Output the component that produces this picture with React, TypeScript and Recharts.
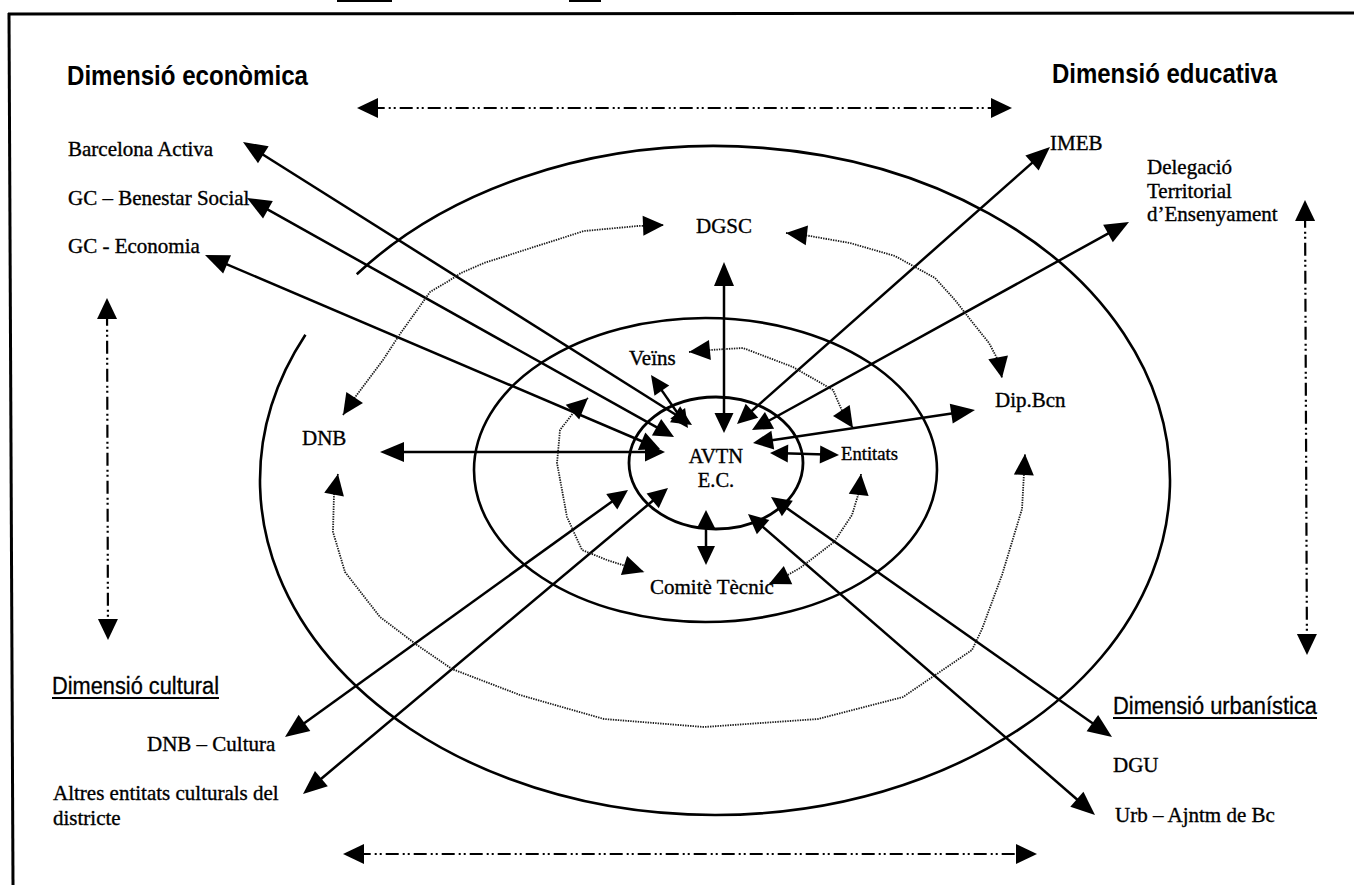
import React from "react";
import { ComposedChart, XAxis, YAxis, Line, Scatter, ReferenceLine, ReferenceArea } from "recharts";

const W = 1354;
const H = 885;

type Pt = { x: number; y: number };

// rings around AVTN (bounding boxes, page units)
const rings = [
  { id: "inner", x1: 629, x2: 803, y1: 397, y2: 529 },
  { id: "middle", x1: 474, x2: 937, y1: 318, y2: 622 },
  { id: "outer", x1: 260, x2: 1170, y1: 146, y2: 815 },
];
// break in the outer ring, upper left
const outerGap: Pt[] = [
  { x: 358, y: 275 },
  { x: 306, y: 335 },
];

// two-way links to the centre: outer tip -> inner tip
const radialLinks = [
  { label: "Barcelona Activa", x1: 243, y1: 142, x2: 692, y2: 425 },
  { label: "GC – Benestar Social", x1: 247, y1: 198, x2: 674, y2: 437 },
  { label: "GC - Economia", x1: 205, y1: 255, x2: 660, y2: 449 },
  { label: "DNB", x1: 380, y1: 452, x2: 665, y2: 452 },
  { label: "DGSC", x1: 724, y1: 262, x2: 724, y2: 433 },
  { label: "IMEB", x1: 1050, y1: 147, x2: 737, y2: 424 },
  { label: "Delegació", x1: 1129, y1: 222, x2: 752, y2: 430 },
  { label: "Dip.Bcn", x1: 975, y1: 410, x2: 753, y2: 443 },
  { label: "DNB – Cultura", x1: 285, y1: 737, x2: 628, y2: 490 },
  { label: "Altres entitats", x1: 303, y1: 794, x2: 668, y2: 488 },
  { label: "DGU", x1: 1112, y1: 737, x2: 771, y2: 497 },
  { label: "Urb", x1: 1095, y1: 815, x2: 748, y2: 514 },
];
const shortLinks = [
  { label: "Veïns", x1: 651, y1: 375, x2: 688, y2: 428 },
  { label: "Entitats", x1: 839, y1: 455, x2: 770, y2: 453 },
  { label: "Comitè Tècnic", x1: 706, y1: 565, x2: 706, y2: 510 },
];

// dash-dot arrows between the four dimensions
const dimensionLinks = [
  { id: "top", x1: 357, y1: 108, x2: 1012, y2: 108 },
  { id: "bottom", x1: 343, y1: 854, x2: 1037, y2: 854 },
  { id: "left", x1: 107, y1: 298, x2: 108, y2: 640 },
  { id: "right", x1: 1305, y1: 200, x2: 1307, y2: 655 },
];

// dotted flows between partners
const flowOuterTopLeft: Pt[] = [
  { x: 343, y: 415 }, { x: 353, y: 400 }, { x: 383, y: 360 }, { x: 400, y: 334 },
  { x: 430, y: 292 }, { x: 447, y: 282 }, { x: 461, y: 273 }, { x: 484, y: 263 },
  { x: 534, y: 247 }, { x: 584, y: 231 }, { x: 638, y: 226 }, { x: 664, y: 225 },
];
const flowOuterTopRight: Pt[] = [
  { x: 786, y: 233 }, { x: 804, y: 235 }, { x: 850, y: 243 }, { x: 895, y: 256 },
  { x: 935, y: 278 }, { x: 955, y: 300 }, { x: 969, y: 318 }, { x: 989, y: 343 },
  { x: 999, y: 362 }, { x: 1002, y: 378 },
];
const flowOuterBottom: Pt[] = [
  { x: 338, y: 474 }, { x: 334, y: 495 }, { x: 333, y: 532 }, { x: 345, y: 572 },
  { x: 380, y: 617 }, { x: 417, y: 645 }, { x: 452, y: 669 }, { x: 520, y: 695 },
  { x: 604, y: 719 }, { x: 704, y: 727 }, { x: 818, y: 719 }, { x: 903, y: 697 },
  { x: 972, y: 650 }, { x: 982, y: 629 }, { x: 1002, y: 575 }, { x: 1022, y: 509 },
  { x: 1025, y: 454 },
];
const flowInnerTop: Pt[] = [
  { x: 689, y: 352 }, { x: 710, y: 350 }, { x: 743, y: 348 }, { x: 793, y: 367 },
  { x: 833, y: 390 }, { x: 843, y: 413 }, { x: 853, y: 428 },
];
const flowInnerLeft: Pt[] = [
  { x: 588, y: 398 }, { x: 577, y: 408 }, { x: 560, y: 430 }, { x: 557, y: 463 },
  { x: 567, y: 517 }, { x: 582, y: 550 }, { x: 607, y: 560 }, { x: 644, y: 572 },
];
const flowInnerRight: Pt[] = [
  { x: 861, y: 474 }, { x: 859, y: 492 }, { x: 852, y: 515 }, { x: 834, y: 542 },
  { x: 800, y: 568 }, { x: 784, y: 577 }, { x: 769, y: 584 },
];

// text (x = start, y = baseline)
const titles = [
  { text: "Dimensió econòmica", x: 67, y: 85 },
  { text: "Dimensió educativa", x: 1052, y: 83 },
];
const dimensionNames = [
  { text: "Dimensió cultural", x: 52, y: 694 },
  { text: "Dimensió urbanística", x: 1113, y: 714 },
];
const partnerNames = [
  { text: "Barcelona Activa", x: 68, y: 156 },
  { text: "GC – Benestar Social", x: 68, y: 205 },
  { text: "GC - Economia", x: 68, y: 253 },
  { text: "IMEB", x: 1050, y: 150 },
  { text: "Delegació", x: 1147, y: 174 },
  { text: "Territorial", x: 1147, y: 198 },
  { text: "d’Ensenyament", x: 1147, y: 221 },
  { text: "DGSC", x: 696, y: 233 },
  { text: "Veïns", x: 629, y: 365 },
  { text: "DNB", x: 302, y: 445 },
  { text: "Dip.Bcn", x: 995, y: 407 },
  { text: "Comitè Tècnic", x: 650, y: 594 },
  { text: "DNB – Cultura", x: 147, y: 751 },
  { text: "Altres entitats culturals del", x: 53, y: 800 },
  { text: "districte", x: 53, y: 825 },
  { text: "DGU", x: 1113, y: 772 },
  { text: "Urb – Ajntm de Bc", x: 1115, y: 822 },
];
const coreNames = [
  { text: "AVTN", x: 716, y: 463 },
  { text: "E.C.", x: 716, y: 487 },
];
const smallNames = [{ text: "Entitats", x: 841, y: 460 }];

// frame and the scraps along the top edge
const frameEdges = [
  { id: "top", x1: 8, y1: 14, x2: 1354, y2: 13 },
  { id: "left", x1: 9, y1: 13, x2: 13, y2: 885 },
  { id: "mark1", x1: 337, y1: 1, x2: 392, y2: 1 },
  { id: "mark2", x1: 569, y1: 1, x2: 601, y2: 1 },
];

const fitWidth: Record<string, number> = {
  "Dimensió econòmica": 241,
  "Dimensió educativa": 225,
  "Dimensió cultural": 167,
  "Dimensió urbanística": 204,
  Entitats: 57,
};

const SERIF = "'Liberation Serif', 'Times New Roman', serif";
const SANS = "'Liberation Sans', Arial, sans-serif";
const INK = "#000";

function head(tx: number, ty: number, fx: number, fy: number, len: number, half: number) {
  const dx = tx - fx;
  const dy = ty - fy;
  const d = Math.hypot(dx, dy) || 1;
  const ux = dx / d;
  const uy = dy / d;
  const bx = tx - ux * len;
  const by = ty - uy * len;
  return `${tx},${ty} ${bx - uy * half},${by + ux * half} ${bx + uy * half},${by - ux * half}`;
}

const arrow = (outer: number[], inner: number[], dash?: string) => (p: any) => {
  const { x1, y1, x2, y2 } = p;
  const d = Math.hypot(x2 - x1, y2 - y1) || 1;
  const ux = (x2 - x1) / d;
  const uy = (y2 - y1) / d;
  const a = outer[0] * 0.7;
  const b = inner[0] * 0.7;
  return (
    <g>
      <line
        x1={x1 + ux * a}
        y1={y1 + uy * a}
        x2={x2 - ux * b}
        y2={y2 - uy * b}
        stroke={INK}
        strokeWidth={dash ? 2.2 : 2.5}
        strokeDasharray={dash}
      />
      <polygon points={head(x1, y1, x2, y2, outer[0], outer[1])} fill={INK} />
      <polygon points={head(x2, y2, x1, y1, inner[0], inner[1])} fill={INK} />
    </g>
  );
};

const ring = (box: typeof rings[number], gap?: Pt[]) => (p: any) => {
  const { x, y, width, height } = p;
  const rx = width / 2;
  const ry = height / 2;
  const cx = x + rx;
  const cy = y + ry;
  const sw = box.id === "inner" ? 2.8 : 2.6;
  if (!gap) return <ellipse cx={cx} cy={cy} rx={rx} ry={ry} fill="none" stroke={INK} strokeWidth={sw} />;
  const onRing = (q: Pt) => {
    const px = x + ((q.x - box.x1) / (box.x2 - box.x1)) * width;
    const py = y + ((q.y - box.y1) / (box.y2 - box.y1)) * height;
    const t = Math.atan2((py - cy) / ry, (px - cx) / rx);
    return { x: cx + rx * Math.cos(t), y: cy + ry * Math.sin(t) };
  };
  const s = onRing(gap[0]);
  const e = onRing(gap[1]);
  return (
    <path
      d={`M${s.x},${s.y} A${rx},${ry} 0 1 1 ${e.x},${e.y}`}
      fill="none"
      stroke={INK}
      strokeWidth={sw}
    />
  );
};

const flowTips = (series: Pt[]) => (p: any) => {
  const { cx, cy, index, points } = p;
  const last = series.length - 1;
  if (index !== 0 && index !== last) return <g key={`t${index}`} />;
  const nb = index === 0 ? 1 : last - 1;
  let fx = cx + (series[nb].x - series[index].x);
  let fy = cy + (series[nb].y - series[index].y);
  if (points && points[nb]) {
    fx = points[nb].x;
    fy = points[nb].y;
  }
  return <polygon key={`t${index}`} points={head(cx, cy, fx, fy, 21, 10)} fill={INK} />;
};

const textShape = (kind: "title" | "dimension" | "partner" | "core" | "small") => (p: any) => {
  const { cx, cy, payload } = p;
  const fit = fitWidth[payload.text];
  const common: any = {
    x: cx,
    y: cy,
    fill: INK,
    textLength: fit,
    lengthAdjust: fit ? "spacingAndGlyphs" : undefined,
  };
  if (kind === "title")
    return (
      <text {...common} fontFamily={SANS} fontWeight={700} fontSize={27}>
        {payload.text}
      </text>
    );
  if (kind === "dimension")
    return (
      <g>
        <text {...common} fontFamily={SANS} fontSize={23} stroke={INK} strokeWidth={0.3}>
          {payload.text}
        </text>
        <line x1={cx} y1={cy + 4} x2={cx + fit} y2={cy + 4} stroke={INK} strokeWidth={1.8} />
      </g>
    );
  const serif = { fontFamily: SERIF, stroke: INK, strokeWidth: 0.35 };
  if (kind === "core")
    return (
      <text {...common} {...serif} fontSize={20.5} textAnchor="middle">
        {payload.text}
      </text>
    );
  if (kind === "small")
    return (
      <text {...common} {...serif} fontSize={18}>
        {payload.text}
      </text>
    );
  return (
    <text {...common} {...serif} fontSize={21}>
      {payload.text}
    </text>
  );
};

const flows = [
  { id: "otl", data: flowOuterTopLeft },
  { id: "otr", data: flowOuterTopRight },
  { id: "ob", data: flowOuterBottom },
  { id: "it", data: flowInnerTop },
  { id: "il", data: flowInnerLeft },
  { id: "ir", data: flowInnerRight },
];

export default function App() {
  return (
    <div style={{ position: "absolute", left: 0, top: 0, width: W, height: H, background: "#fff" }}>
      <ComposedChart width={W} height={H} margin={{ top: 0, right: 0, bottom: 0, left: 0 }}>
        <XAxis type="number" dataKey="x" domain={[0, W]} hide allowDataOverflow />
        <YAxis type="number" dataKey="y" domain={[0, H]} reversed hide allowDataOverflow />

        {frameEdges.map((f) => (
          <ReferenceLine
            key={f.id}
            segment={[{ x: f.x1, y: f.y1 }, { x: f.x2, y: f.y2 }]}
            stroke={INK}
            strokeWidth={f.id.startsWith("mark") ? 2 : 3}
            ifOverflow="visible"
          />
        ))}

        {rings.map((r) => (
          <ReferenceArea
            key={r.id}
            x1={r.x1}
            x2={r.x2}
            y1={r.y1}
            y2={r.y2}
            ifOverflow="visible"
            shape={ring(r, r.id === "outer" ? outerGap : undefined)}
          />
        ))}

        {dimensionLinks.map((l) => (
          <ReferenceLine
            key={l.id}
            segment={[{ x: l.x1, y: l.y1 }, { x: l.x2, y: l.y2 }]}
            ifOverflow="visible"
            shape={arrow([21, 10], [21, 10], "13 4 2 3 2 4")}
          />
        ))}

        {radialLinks.map((l) => (
          <ReferenceLine
            key={l.label}
            segment={[{ x: l.x1, y: l.y1 }, { x: l.x2, y: l.y2 }]}
            ifOverflow="visible"
            shape={arrow([24, 10], [20, 9.5])}
          />
        ))}
        {shortLinks.map((l) => (
          <ReferenceLine
            key={l.label}
            segment={[{ x: l.x1, y: l.y1 }, { x: l.x2, y: l.y2 }]}
            ifOverflow="visible"
            shape={arrow([19, 9], [18, 9])}
          />
        ))}

        {flows.map((f) => (
          <Line
            key={f.id}
            data={f.data}
            dataKey="y"
            type="linear"
            stroke="#1a1a1a"
            strokeWidth={1.8}
            strokeDasharray="1.4 1.1"
            dot={flowTips(f.data)}
            activeDot={false}
            legendType="none"
            isAnimationActive={false}
          />
        ))}

        <Scatter data={titles} dataKey="y" shape={textShape("title")} isAnimationActive={false} />
        <Scatter data={dimensionNames} dataKey="y" shape={textShape("dimension")} isAnimationActive={false} />
        <Scatter data={partnerNames} dataKey="y" shape={textShape("partner")} isAnimationActive={false} />
        <Scatter data={coreNames} dataKey="y" shape={textShape("core")} isAnimationActive={false} />
        <Scatter data={smallNames} dataKey="y" shape={textShape("small")} isAnimationActive={false} />
      </ComposedChart>
    </div>
  );
}
